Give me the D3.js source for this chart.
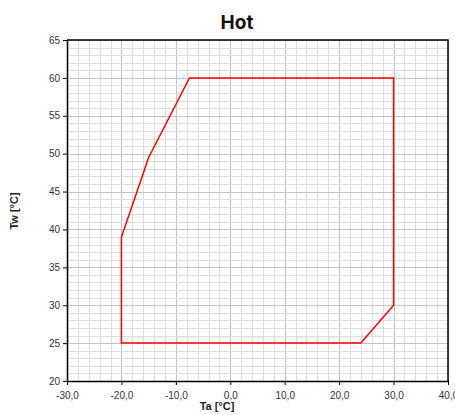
<!DOCTYPE html>
<html>
<head>
<meta charset="utf-8">
<script src="https://cdn.jsdelivr.net/npm/d3@7"></script>
<style>
  body { margin: 0; background: #fff; }
  svg { display: block; }
</style>
</head>
<body>
<svg width="455" height="415"></svg>
<script>
var width = 455;
var height = 415;

// envelope corners (Ta, Tw)
var ta = [-20, -20, -15, -7.5, 30, 30, 24];
var tw = [25, 39, 49.5, 60, 60, 30, 25];

var xTicks = [-30, -20, -10, 0, 10, 20, 30, 40];
var yTicks = [20, 25, 30, 35, 40, 45, 50, 55, 60, 65];

var margin = {left: 67, right: 7, top: 40, bottom: 34};

var svg = d3.select("svg");

var x = d3.scaleLinear().domain([-30, 40]).range([margin.left, width - margin.right]);
var y = d3.scaleLinear().domain([20, 65]).range([height - margin.bottom, margin.top]);

//----------------------------------------------------------------
// grid
//----------------------------------------------------------------
var grid = svg.append("g");
grid.selectAll("line.vx")
    .data(d3.range(-30, 41, 2))
    .enter().append("line")
    .attr("x1", d => Math.round(x(d)) + 0.5).attr("x2", d => Math.round(x(d)) + 0.5)
    .attr("y1", y(20)).attr("y2", y(65))
    .attr("stroke", d => d % 10 == 0 ? "#c4c4c4" : "#dedede")
    .attr("stroke-width", 1.2);

grid.selectAll("line.hy")
    .data(d3.range(20, 66, 1))
    .enter().append("line")
    .attr("y1", d => Math.round(y(d)) + 0.5).attr("y2", d => Math.round(y(d)) + 0.5)
    .attr("x1", x(-30)).attr("x2", x(40))
    .attr("stroke", d => d % 5 == 0 ? "#c4c4c4" : "#dedede")
    .attr("stroke-width", 1.2);

//----------------------------------------------------------------
// axes
//----------------------------------------------------------------
var fmt = d => d.toFixed(1).replace(".", ",");

var xAxis = svg.append("g")
    .attr("transform", "translate(0," + y(20) + ")")
    .call(d3.axisBottom(x).tickValues(xTicks).tickFormat(fmt).tickSize(4).tickSizeOuter(0));

var yAxis = svg.append("g")
    .attr("transform", "translate(" + x(-30) + ",0)")
    .call(d3.axisLeft(y).tickValues(yTicks).tickSize(4).tickSizeOuter(0));

[xAxis, yAxis].forEach(function(a) {
    a.select(".domain").attr("stroke", "#000").attr("stroke-width", 1.5);
    a.selectAll(".tick line").attr("stroke", "#000");
    a.selectAll("text")
        .attr("font-family", "Liberation Sans, Arial, sans-serif")
        .attr("font-size", 10)
        .attr("fill", "#333");
});
xAxis.selectAll("text").attr("dy", "1.1em");

// frame top/right
svg.append("path")
    .attr("d", "M" + x(-30) + "," + y(65) + "H" + x(40) + "V" + y(20))
    .attr("fill", "none").attr("stroke", "#000").attr("stroke-width", 1.5);

//----------------------------------------------------------------
// envelope
//----------------------------------------------------------------
var pts = ta.map((d, i) => [x(d), y(tw[i])]);
svg.append("path")
    .attr("d", d3.line()(pts) + "Z")
    .attr("fill", "none")
    .attr("stroke", "#ff0000")
    .attr("stroke-width", 1.5);

//----------------------------------------------------------------
// titles
//----------------------------------------------------------------
svg.append("text")
    .attr("x", 237).attr("y", 29)
    .attr("text-anchor", "middle")
    .attr("font-family", "Inter, sans-serif")
    .attr("font-weight", "bold")
    .attr("font-size", 19)
    .attr("fill", "#111")
    .text("Hot");

svg.append("text")
    .attr("x", 217).attr("y", 410)
    .attr("text-anchor", "middle")
    .attr("font-family", "Liberation Sans, Arial, sans-serif")
    .attr("font-weight", "bold")
    .attr("font-size", 11)
    .attr("fill", "#222")
    .text("Ta [°C]");

svg.append("text")
    .attr("transform", "translate(18,211) rotate(-90)")
    .attr("text-anchor", "middle")
    .attr("font-family", "Liberation Sans, Arial, sans-serif")
    .attr("font-weight", "bold")
    .attr("font-size", 11)
    .attr("fill", "#222")
    .text("Tw [°C]");
</script>
</body>
</html>
